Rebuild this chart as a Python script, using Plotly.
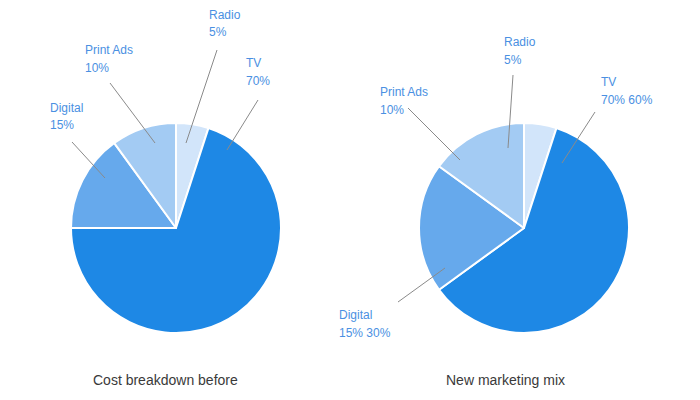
import plotly.graph_objects as go

# ---- data ----
categories = ["Radio", "TV", "Digital", "Print Ads"]
before_values = [5, 70, 15, 10]
after_values = [5, 60, 20, 15]
before_label_pct = ["5%", "70%", "15%", "10%"]
after_label_pct = ["5%", "70% 60%", "15% 30%", "10%"]
chart_titles = ["Cost breakdown before", "New marketing mix"]

# ---- styling / layout ----
W, H = 700, 400
colors = ["#d2e5fa", "#1e88e5", "#66a9ec", "#a3cbf3"]
label_color = "#4a90e2"

def px(x, y):
    return x / W, 1 - y / H

fig = go.Figure()

domains = [
    dict(x=[71 / W, 281 / W], y=[1 - 333 / H, 1 - 123 / H]),
    dict(x=[419 / W, 629 / W], y=[1 - 333 / H, 1 - 123 / H]),
]

for vals, dom in zip([before_values, after_values], domains):
    fig.add_trace(go.Pie(
        labels=categories, values=vals, sort=False, direction="clockwise",
        rotation=0, domain=dom, textinfo="none", hoverinfo="label+percent",
        marker=dict(colors=colors, line=dict(color="white", width=2)),
        showlegend=False,
    ))

# label text positions (left x, first-line center y, second-line center y) in px
label_pos = [
    [(207, 15, 32), (244, 63, 81), (48, 108, 125), (83, 50, 68)],
    [(502, 42, 60), (599, 82, 100), (337, 315, 333), (378, 92, 110)],
]
# leader lines (x0, y0, x1, y1) in px
leader_pos = [
    [(217, 50, 186, 143), (258, 100, 227, 150), (72, 142, 105, 178), (110, 83, 155, 143)],
    [(513, 75, 508, 148), (595, 112, 562, 163), (398, 302, 445, 268), (408, 108, 460, 160)],
]

annotations = []
shapes = []
for pcts, lpos, lines in zip([before_label_pct, after_label_pct], label_pos, leader_pos):
    for name, pct, (lx, y1, y2), (x0, yy0, x1, yy1) in zip(categories, pcts, lpos, lines):
        for txt, yy in ((name, y1), (pct, y2)):
            ax_, ay_ = px(lx, yy)
            annotations.append(dict(
                x=ax_, y=ay_, xref="paper", yref="paper", text=txt,
                showarrow=False, xanchor="left", yanchor="middle",
                font=dict(family="Liberation Sans, Arial", size=12, color=label_color),
            ))
        a0 = px(x0, yy0)
        a1 = px(x1, yy1)
        shapes.append(dict(type="line", xref="paper", yref="paper",
                           x0=a0[0], y0=a0[1], x1=a1[0], y1=a1[1],
                           line=dict(color="#8a8a8a", width=1)))

for title, cx in zip(chart_titles, [165, 505]):
    tx, ty = px(cx, 380)
    annotations.append(dict(
        x=tx, y=ty, xref="paper", yref="paper", text=title, showarrow=False,
        xanchor="center", yanchor="middle",
        font=dict(family="Liberation Sans, Arial", size=14, color="#3a3a3a"),
    ))

fig.update_layout(
    width=W, height=H, margin=dict(l=0, r=0, t=0, b=0),
    paper_bgcolor="white", plot_bgcolor="white",
    annotations=annotations, shapes=shapes,
)

fig.write_html("out.html", config={"displayModeBar": False},
               post_script="document.body.style.margin='0';")
